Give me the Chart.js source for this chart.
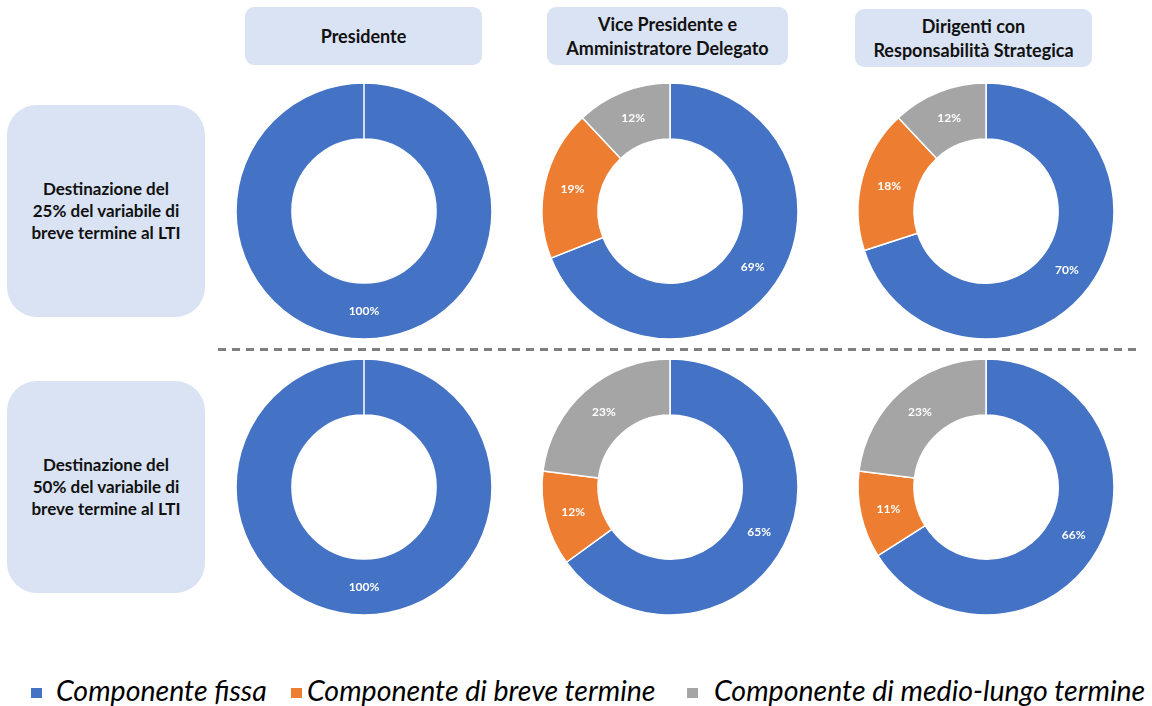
<!DOCTYPE html>
<html>
<head>
<meta charset="utf-8">
<script src="https://cdn.jsdelivr.net/npm/chart.js@4/dist/chart.umd.min.js"></script>
<style>
  html, body { margin:0; padding:0; background:#fff; }
  body { width:1152px; height:706px; position:relative; overflow:hidden; font-family: Lato, "Open Sans", sans-serif; }
  .box { position:absolute; background:#dae3f3; display:flex; align-items:center; justify-content:center; text-align:center; font-weight:bold; color:#111; }
  .hdr { border-radius:9px; font-size:18px; line-height:24px; }
  .row { border-radius:30px; font-size:17px; line-height:22px; }
  canvas.pie { position:absolute; }
  .lg { position:absolute; top:675px; font-style:italic; font-size:28.5px; line-height:30px; color:#000; white-space:nowrap; }
  .sq { position:absolute; top:688px; width:11px; height:10px; }
</style>
</head>
<body>
<div class="box hdr" style="left:245px;top:7px;width:237px;height:58px;">Presidente</div>
<div class="box hdr" style="left:547px;top:7px;width:241px;height:58px;">Vice Presidente e<br>Amministratore Delegato</div>
<div class="box hdr" style="left:855px;top:9px;width:237px;height:58px;">Dirigenti con<br>Responsabilità Strategica</div>
<div class="box row" style="left:7px;top:105px;width:198px;height:212px;">Destinazione del<br>25% del variabile di<br>breve termine al LTI</div>
<div class="box row" style="left:7px;top:381px;width:198px;height:212px;">Destinazione del<br>50% del variabile di<br>breve termine al LTI</div>
<svg style="position:absolute;left:0;top:0" width="1152" height="706">
  <line x1="218" y1="349.5" x2="1136" y2="349.5" stroke="#7f7f7f" stroke-width="3" stroke-dasharray="8,6"/>
</svg>
<canvas class="pie" id="c0" width="280" height="280" style="left:224px;top:71px"></canvas>
<canvas class="pie" id="c1" width="280" height="280" style="left:530px;top:71px"></canvas>
<canvas class="pie" id="c2" width="280" height="280" style="left:846px;top:71px"></canvas>
<canvas class="pie" id="c3" width="280" height="280" style="left:224px;top:347px"></canvas>
<canvas class="pie" id="c4" width="280" height="280" style="left:530px;top:347px"></canvas>
<canvas class="pie" id="c5" width="280" height="280" style="left:846px;top:347px"></canvas>

<div class="sq" style="left:31px;background:#4472c4"></div>
<div class="lg" id="l0" style="left:56px">Componente fissa</div>
<div class="sq" style="left:291px;background:#ed7d31"></div>
<div class="lg" id="l1" style="left:307px">Componente di breve termine</div>
<div class="sq" style="left:687px;background:#a5a5a5"></div>
<div class="lg" id="l2" style="left:714px">Componente di medio-lungo termine</div>

<script>
const categories = ['Componente fissa', 'Componente di breve termine', 'Componente di medio-lungo termine'];
const colors = ['#4472c4', '#ed7d31', '#a5a5a5'];
const roles = ['Presidente', 'Vice Presidente e Amministratore Delegato', 'Dirigenti con Responsabilità Strategica'];
const scenarios = ['Destinazione del 25% del variabile di breve termine al LTI', 'Destinazione del 50% del variabile di breve termine al LTI'];

// values in %, order: fissa, breve, medio-lungo
const presidente25 = [100, 0, 0];
const vicePresidente25 = [69, 19, 12];
const dirigenti25 = [70, 18, 12];
const presidente50 = [100, 0, 0];
const vicePresidente50 = [65, 12, 23];
const dirigenti50 = [66, 11, 23];

const seriesList = [presidente25, vicePresidente25, dirigenti25, presidente50, vicePresidente50, dirigenti50];

const labelPlugin = {
  id: 'pctLabels',
  afterDatasetsDraw(chart) {
    const ctx = chart.ctx;
    const meta = chart.getDatasetMeta(0);
    const data = chart.data.datasets[0].data;
    ctx.save();
    ctx.fillStyle = '#ffffff';
    ctx.font = 'bold 12px Lato, sans-serif';
    ctx.textAlign = 'center';
    ctx.textBaseline = 'middle';
    meta.data.forEach((arc, i) => {
      if (!data[i]) return;
      const p = arc.tooltipPosition();
      ctx.fillText(data[i] + '%', p.x, p.y);
    });
    ctx.restore();
  }
};

seriesList.forEach((vals, k) => {
  new Chart(document.getElementById('c' + k), {
    type: 'doughnut',
    data: {
      labels: categories,
      datasets: [{
        data: vals,
        backgroundColor: colors,
        borderColor: '#ffffff',
        borderWidth: 1.5
      }]
    },
    options: {
      responsive: false,
      animation: false,
      radius: 128,
      cutout: '56.3%',
      layout: { padding: 0 },
      plugins: { legend: { display: false }, tooltip: { enabled: false } }
    },
    plugins: [labelPlugin]
  });
});
</script>
</body>
</html>
